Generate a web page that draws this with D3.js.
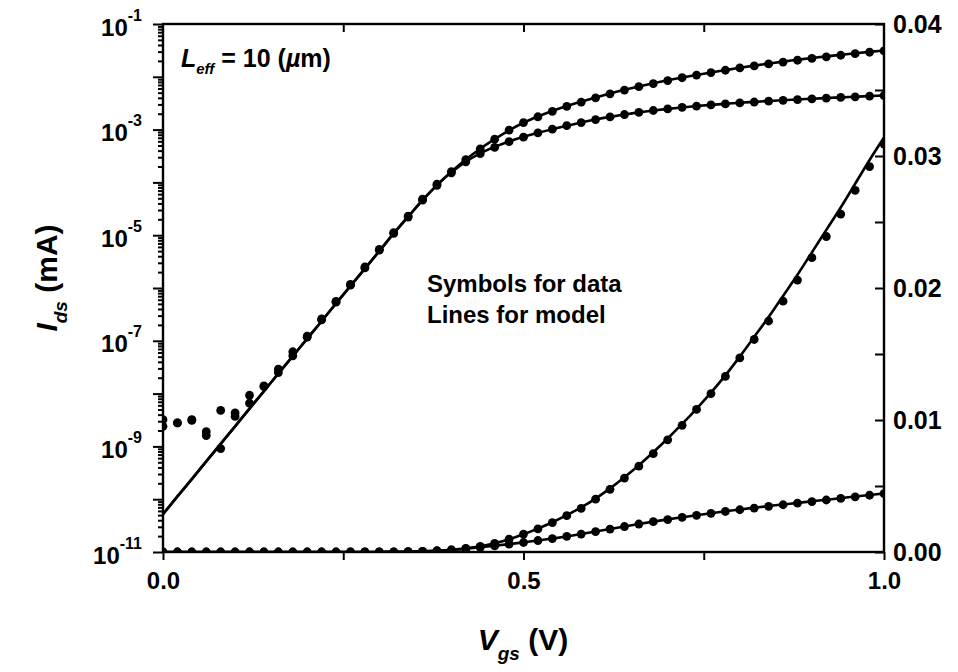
<!DOCTYPE html>
<html>
<head>
<meta charset="utf-8">
<script src="https://cdn.jsdelivr.net/npm/d3@7/dist/d3.min.js"></script>
<style>
  html, body { margin: 0; padding: 0; background: #fff; }
  svg { display: block; font-family: "Liberation Sans", Arial, sans-serif; font-weight: bold; }
</style>
</head>
<body>
<svg id="chart" width="958" height="672"></svg>
<script>
// Gate voltage sweep (V)
const vgs = [0.00, 0.02, 0.04, 0.06, 0.08, 0.10, 0.12, 0.14, 0.16, 0.18,
             0.20, 0.22, 0.24, 0.26, 0.28, 0.30, 0.32, 0.34, 0.36, 0.38,
             0.40, 0.42, 0.44, 0.46, 0.48, 0.50, 0.52, 0.54, 0.56, 0.58,
             0.60, 0.62, 0.64, 0.66, 0.68, 0.70, 0.72, 0.74, 0.76, 0.78,
             0.80, 0.82, 0.84, 0.86, 0.88, 0.90, 0.92, 0.94, 0.96, 0.98, 1.00];

// Measured drain current (mA), high drain bias
const idsHighData = [3.2e-9, 2.8e-9, 3.2e-9, 1.9e-9, 4.8e-9, 4.3e-9, 9.3e-9, 1.4e-8, 2.9e-8, 6.2e-8,
                     1.23e-7, 2.6e-7, 5.6e-7, 1.17e-6, 2.5e-6, 5.4e-6, 1.12e-5, 2.3e-5, 4.8e-5, 9.3e-5,
                     1.6e-4, 2.7e-4, 4.3e-4, 6.6e-4, 9.8e-4, 1.36e-3, 1.75e-3, 2.22e-3, 2.75e-3, 3.3e-3,
                     4.0e-3, 4.75e-3, 5.6e-3, 6.5e-3, 7.45e-3, 8.5e-3, 9.6e-3, 1.08e-2, 1.20e-2, 1.33e-2,
                     1.47e-2, 1.61e-2, 1.75e-2, 1.90e-2, 2.06e-2, 2.23e-2, 2.39e-2, 2.56e-2, 2.74e-2, 2.92e-2, 3.09e-2];

// Measured drain current (mA), low drain bias
const idsLowData = [2.4e-9, 2.8e-9, 3.1e-9, 1.6e-9, 9.1e-10, 3.7e-9, 6.6e-9, 1.35e-8, 2.5e-8, 5.2e-8,
                    1.17e-7, 2.5e-7, 5.4e-7, 1.13e-6, 2.4e-6, 5.2e-6, 1.08e-5, 2.2e-5, 4.6e-5, 8.8e-5,
                    1.52e-4, 2.45e-4, 3.5e-4, 4.6e-4, 5.9e-4, 7.2e-4, 8.7e-4, 1.02e-3, 1.19e-3, 1.36e-3,
                    1.55e-3, 1.74e-3, 1.93e-3, 2.12e-3, 2.30e-3, 2.46e-3, 2.63e-3, 2.78e-3, 2.93e-3, 3.07e-3,
                    3.20e-3, 3.33e-3, 3.46e-3, 3.58e-3, 3.70e-3, 3.82e-3, 3.94e-3, 4.06e-3, 4.18e-3, 4.30e-3, 4.42e-3];

// Model drain current (mA), high drain bias
const idsHighModel = [5.2e-11, 1.13e-10, 2.4e-10, 5.2e-10, 1.12e-9, 2.4e-9, 5.2e-9, 1.11e-8, 2.4e-8, 5.1e-8,
                      1.10e-7, 2.35e-7, 5.1e-7, 1.09e-6, 2.33e-6, 5.0e-6, 1.08e-5, 2.24e-5, 4.6e-5, 8.9e-5,
                      1.6e-4, 2.72e-4, 4.35e-4, 6.6e-4, 9.7e-4, 1.35e-3, 1.77e-3, 2.25e-3, 2.79e-3, 3.38e-3,
                      4.05e-3, 4.82e-3, 5.67e-3, 6.58e-3, 7.56e-3, 8.6e-3, 9.7e-3, 1.085e-2, 1.207e-2, 1.338e-2,
                      1.48e-2, 1.63e-2, 1.78e-2, 1.94e-2, 2.10e-2, 2.27e-2, 2.44e-2, 2.61e-2, 2.79e-2, 2.97e-2, 3.14e-2];

// Model drain current (mA), low drain bias
const idsLowModel = [5.2e-11, 1.13e-10, 2.4e-10, 5.2e-10, 1.12e-9, 2.4e-9, 5.2e-9, 1.11e-8, 2.4e-8, 5.1e-8,
                     1.10e-7, 2.35e-7, 5.1e-7, 1.09e-6, 2.33e-6, 5.0e-6, 1.08e-5, 2.24e-5, 4.6e-5, 8.9e-5,
                     1.55e-4, 2.48e-4, 3.55e-4, 4.7e-4, 5.95e-4, 7.3e-4, 8.7e-4, 1.02e-3, 1.18e-3, 1.36e-3,
                     1.55e-3, 1.74e-3, 1.93e-3, 2.12e-3, 2.30e-3, 2.47e-3, 2.63e-3, 2.79e-3, 2.94e-3, 3.08e-3,
                     3.22e-3, 3.35e-3, 3.48e-3, 3.60e-3, 3.72e-3, 3.84e-3, 3.96e-3, 4.08e-3, 4.20e-3, 4.32e-3, 4.44e-3];

// Axis ticks and labels
const xTicks = [0, 0.25, 0.5, 0.75, 1.0];
const xTickLabels = ["0.0", "", "0.5", "", "1.0"];
const logDecades = [-11, -10, -9, -8, -7, -6, -5, -4, -3, -2, -1];
const logLabelExponents = [-11, -9, -7, -5, -3, -1];
const linTicks = [0, 0.005, 0.01, 0.015, 0.02, 0.025, 0.03, 0.035, 0.04];
const linTickLabels = ["0.00", "", "0.01", "", "0.02", "", "0.03", "", "0.04"];

const svg = d3.select("#chart");
const plotLeft = 163, plotRight = 884, plotTop = 24, plotBottom = 552;

const x = d3.scaleLinear().domain([0, 1]).range([plotLeft, plotRight]);
const yLog = d3.scaleLog().domain([1e-11, 1e-1]).range([plotBottom, plotTop]);
const yLin = d3.scaleLinear().domain([0, 0.04]).range([plotBottom, plotTop]);

svg.append("defs").append("clipPath").attr("id", "plot-clip")
  .append("rect").attr("x", plotLeft).attr("y", plotTop)
  .attr("width", plotRight - plotLeft).attr("height", plotBottom - plotTop);

// Left (log) axis: major ticks every decade, minor ticks 2..9
const minorLog = [];
logDecades.slice(0, -1).forEach(e => {
  for (let k = 2; k <= 9; k++) minorLog.push(k * Math.pow(10, e));
});
const gLeft = svg.append("g").attr("transform", `translate(${plotLeft},0)`);
gLeft.call(d3.axisLeft(yLog).tickValues(minorLog).tickSize(5).tickFormat(() => ""));
const gLeftMajor = svg.append("g").attr("transform", `translate(${plotLeft},0)`);
gLeftMajor.call(d3.axisLeft(yLog).tickValues(logDecades.map(e => Math.pow(10, e)))
  .tickSize(10).tickPadding(10).tickFormat(() => ""));
gLeftMajor.selectAll(".tick").each(function (d) {
  const e = Math.round(Math.log10(d));
  if (!logLabelExponents.includes(e)) return;
  const t = d3.select(this).select("text")
    .attr("x", -21).attr("dy", "0.46em")
    .attr("font-size", 24).attr("font-weight", "bold").attr("fill", "#000")
    .attr("text-anchor", "end");
  t.text("10");
  t.append("tspan").attr("dy", -15).attr("font-size", 16).text(String(e));
});

// Right (linear) axis, ticks pointing inward
const gRight = svg.append("g").attr("transform", `translate(${plotRight},0)`);
gRight.call(d3.axisRight(yLin).tickValues(linTicks).tickSize(-9).tickPadding(9)
  .tickFormat((d, i) => linTickLabels[i]));
gRight.selectAll("text").attr("font-size", 25).attr("font-weight", "bold").attr("fill", "#000");

// Bottom axis, outward ticks
const gBottom = svg.append("g").attr("transform", `translate(0,${plotBottom})`);
gBottom.call(d3.axisBottom(x).tickValues(xTicks).tickSize(8).tickPadding(12)
  .tickFormat((d, i) => xTickLabels[i]));
gBottom.selectAll("text").attr("font-size", 24).attr("font-weight", "bold").attr("fill", "#000");

// Top axis, inward ticks
const gTop = svg.append("g").attr("transform", `translate(0,${plotTop})`);
gTop.call(d3.axisTop(x).tickValues(xTicks.slice(1, -1)).tickSize(-8).tickFormat(() => ""));

svg.selectAll(".domain").remove();
svg.selectAll(".tick line").attr("stroke", "#000").attr("stroke-width", 2);

// Frame
svg.append("rect").attr("x", plotLeft).attr("y", plotTop)
  .attr("width", plotRight - plotLeft).attr("height", plotBottom - plotTop)
  .attr("fill", "none").attr("stroke", "#000").attr("stroke-width", 2.4);

// Curves
const plot = svg.append("g").attr("clip-path", "url(#plot-clip)");

function drawSeries(values, model, yScale) {
  const line = d3.line()
    .x((d, i) => x(vgs[i]))
    .y(d => yScale(d))
    .curve(d3.curveMonotoneX);
  plot.append("path").datum(model)
    .attr("d", line)
    .attr("fill", "none").attr("stroke", "#000").attr("stroke-width", 2.6);
  plot.append("g").selectAll("circle").data(values).join("circle")
    .attr("cx", (d, i) => x(vgs[i]))
    .attr("cy", d => yScale(d))
    .attr("r", 4.4)
    .attr("fill", "#000");
}

drawSeries(idsHighData, idsHighModel, yLog);
drawSeries(idsLowData, idsLowModel, yLog);
drawSeries(idsHighData, idsHighModel, yLin);
drawSeries(idsLowData, idsLowModel, yLin);

// Annotations
const leff = svg.append("text").attr("x", 181).attr("y", 67)
  .attr("font-size", 25).attr("font-weight", "bold").attr("fill", "#000");
leff.append("tspan").attr("font-style", "italic").text("L");
leff.append("tspan").attr("font-style", "italic").attr("font-size", 15).attr("dy", 7).text("eff");
leff.append("tspan").attr("dy", -7).text(" = 10 (");
leff.append("tspan").attr("font-style", "italic").text("\u00b5");
leff.append("tspan").text("m)");

svg.append("text").attr("x", 427).attr("y", 292)
  .attr("font-size", 24).attr("font-weight", "bold").text("Symbols for data");
svg.append("text").attr("x", 427).attr("y", 323)
  .attr("font-size", 24).attr("font-weight", "bold").text("Lines for model");

// Axis titles
const xTitle = svg.append("text").attr("x", 523).attr("y", 650)
  .attr("text-anchor", "middle").attr("font-size", 30).attr("font-weight", "bold");
xTitle.append("tspan").attr("font-style", "italic").text("V");
xTitle.append("tspan").attr("font-style", "italic").attr("font-size", 19).attr("dy", 10).text("gs");
xTitle.append("tspan").attr("dy", -10).text(" (V)");

const yTitle = svg.append("text")
  .attr("transform", "translate(57,278) rotate(-90)")
  .attr("text-anchor", "middle").attr("font-size", 30).attr("font-weight", "bold");
yTitle.append("tspan").attr("font-style", "italic").text("I");
yTitle.append("tspan").attr("font-style", "italic").attr("font-size", 19).attr("dy", 10).text("ds");
yTitle.append("tspan").attr("dy", -10).text(" (mA)");
</script>
</body>
</html>
